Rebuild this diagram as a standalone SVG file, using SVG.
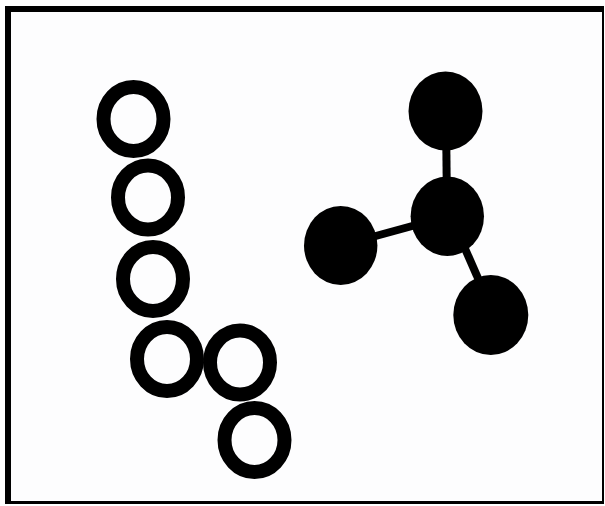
<svg xmlns="http://www.w3.org/2000/svg" width="605" height="506" viewBox="0 0 605 506">
  <style>
    .ring { fill: none; stroke: #000; stroke-width: 14; }
    .ball { fill: #000; }
    .bond { stroke: #000; stroke-width: 8; }
    .frame { fill: #000; }
  </style>
  <rect x="0" y="0" width="605" height="506" fill="#ffffff"/>
  <rect x="8" y="9" width="595" height="493" fill="#fdfdfe"/>
  <g id="frame">
    <rect class="frame" x="5" y="6" width="599" height="6"/>
    <rect class="frame" x="5" y="6" width="6" height="498"/>
    <rect class="frame" x="602" y="6" width="2" height="498"/>
    <rect class="frame" x="5" y="501" width="599" height="3"/>
  </g>
  <g id="connectors">
    <line class="bond" x1="446" y1="111" x2="447" y2="216"/>
    <line class="bond" x1="341" y1="245.5" x2="447" y2="216.5"/>
    <line class="bond" x1="452" y1="219" x2="495" y2="317"/>
  </g>
  <g id="ring1"><ellipse class="ring" cx="133.5" cy="119" rx="30" ry="32"/></g>
  <g id="ring2"><ellipse class="ring" cx="148" cy="197.5" rx="30" ry="32"/></g>
  <g id="ring3"><ellipse class="ring" cx="153" cy="279" rx="30" ry="32"/></g>
  <g id="ring4"><ellipse class="ring" cx="167" cy="359" rx="30" ry="32"/></g>
  <g id="ring5"><ellipse class="ring" cx="240" cy="362.5" rx="30" ry="32"/></g>
  <g id="ring6"><ellipse class="ring" cx="254.5" cy="440" rx="30" ry="32"/></g>
  <g id="ball-top"><ellipse class="ball" cx="445.5" cy="111" rx="37" ry="39.5"/></g>
  <g id="ball-center"><ellipse class="ball" cx="447.3" cy="216.3" rx="36.7" ry="39.7"/></g>
  <g id="ball-left"><ellipse class="ball" cx="340.7" cy="245.5" rx="36.7" ry="39.5"/></g>
  <g id="ball-bottom"><ellipse class="ball" cx="490.8" cy="315" rx="37.5" ry="40"/></g>
</svg>
